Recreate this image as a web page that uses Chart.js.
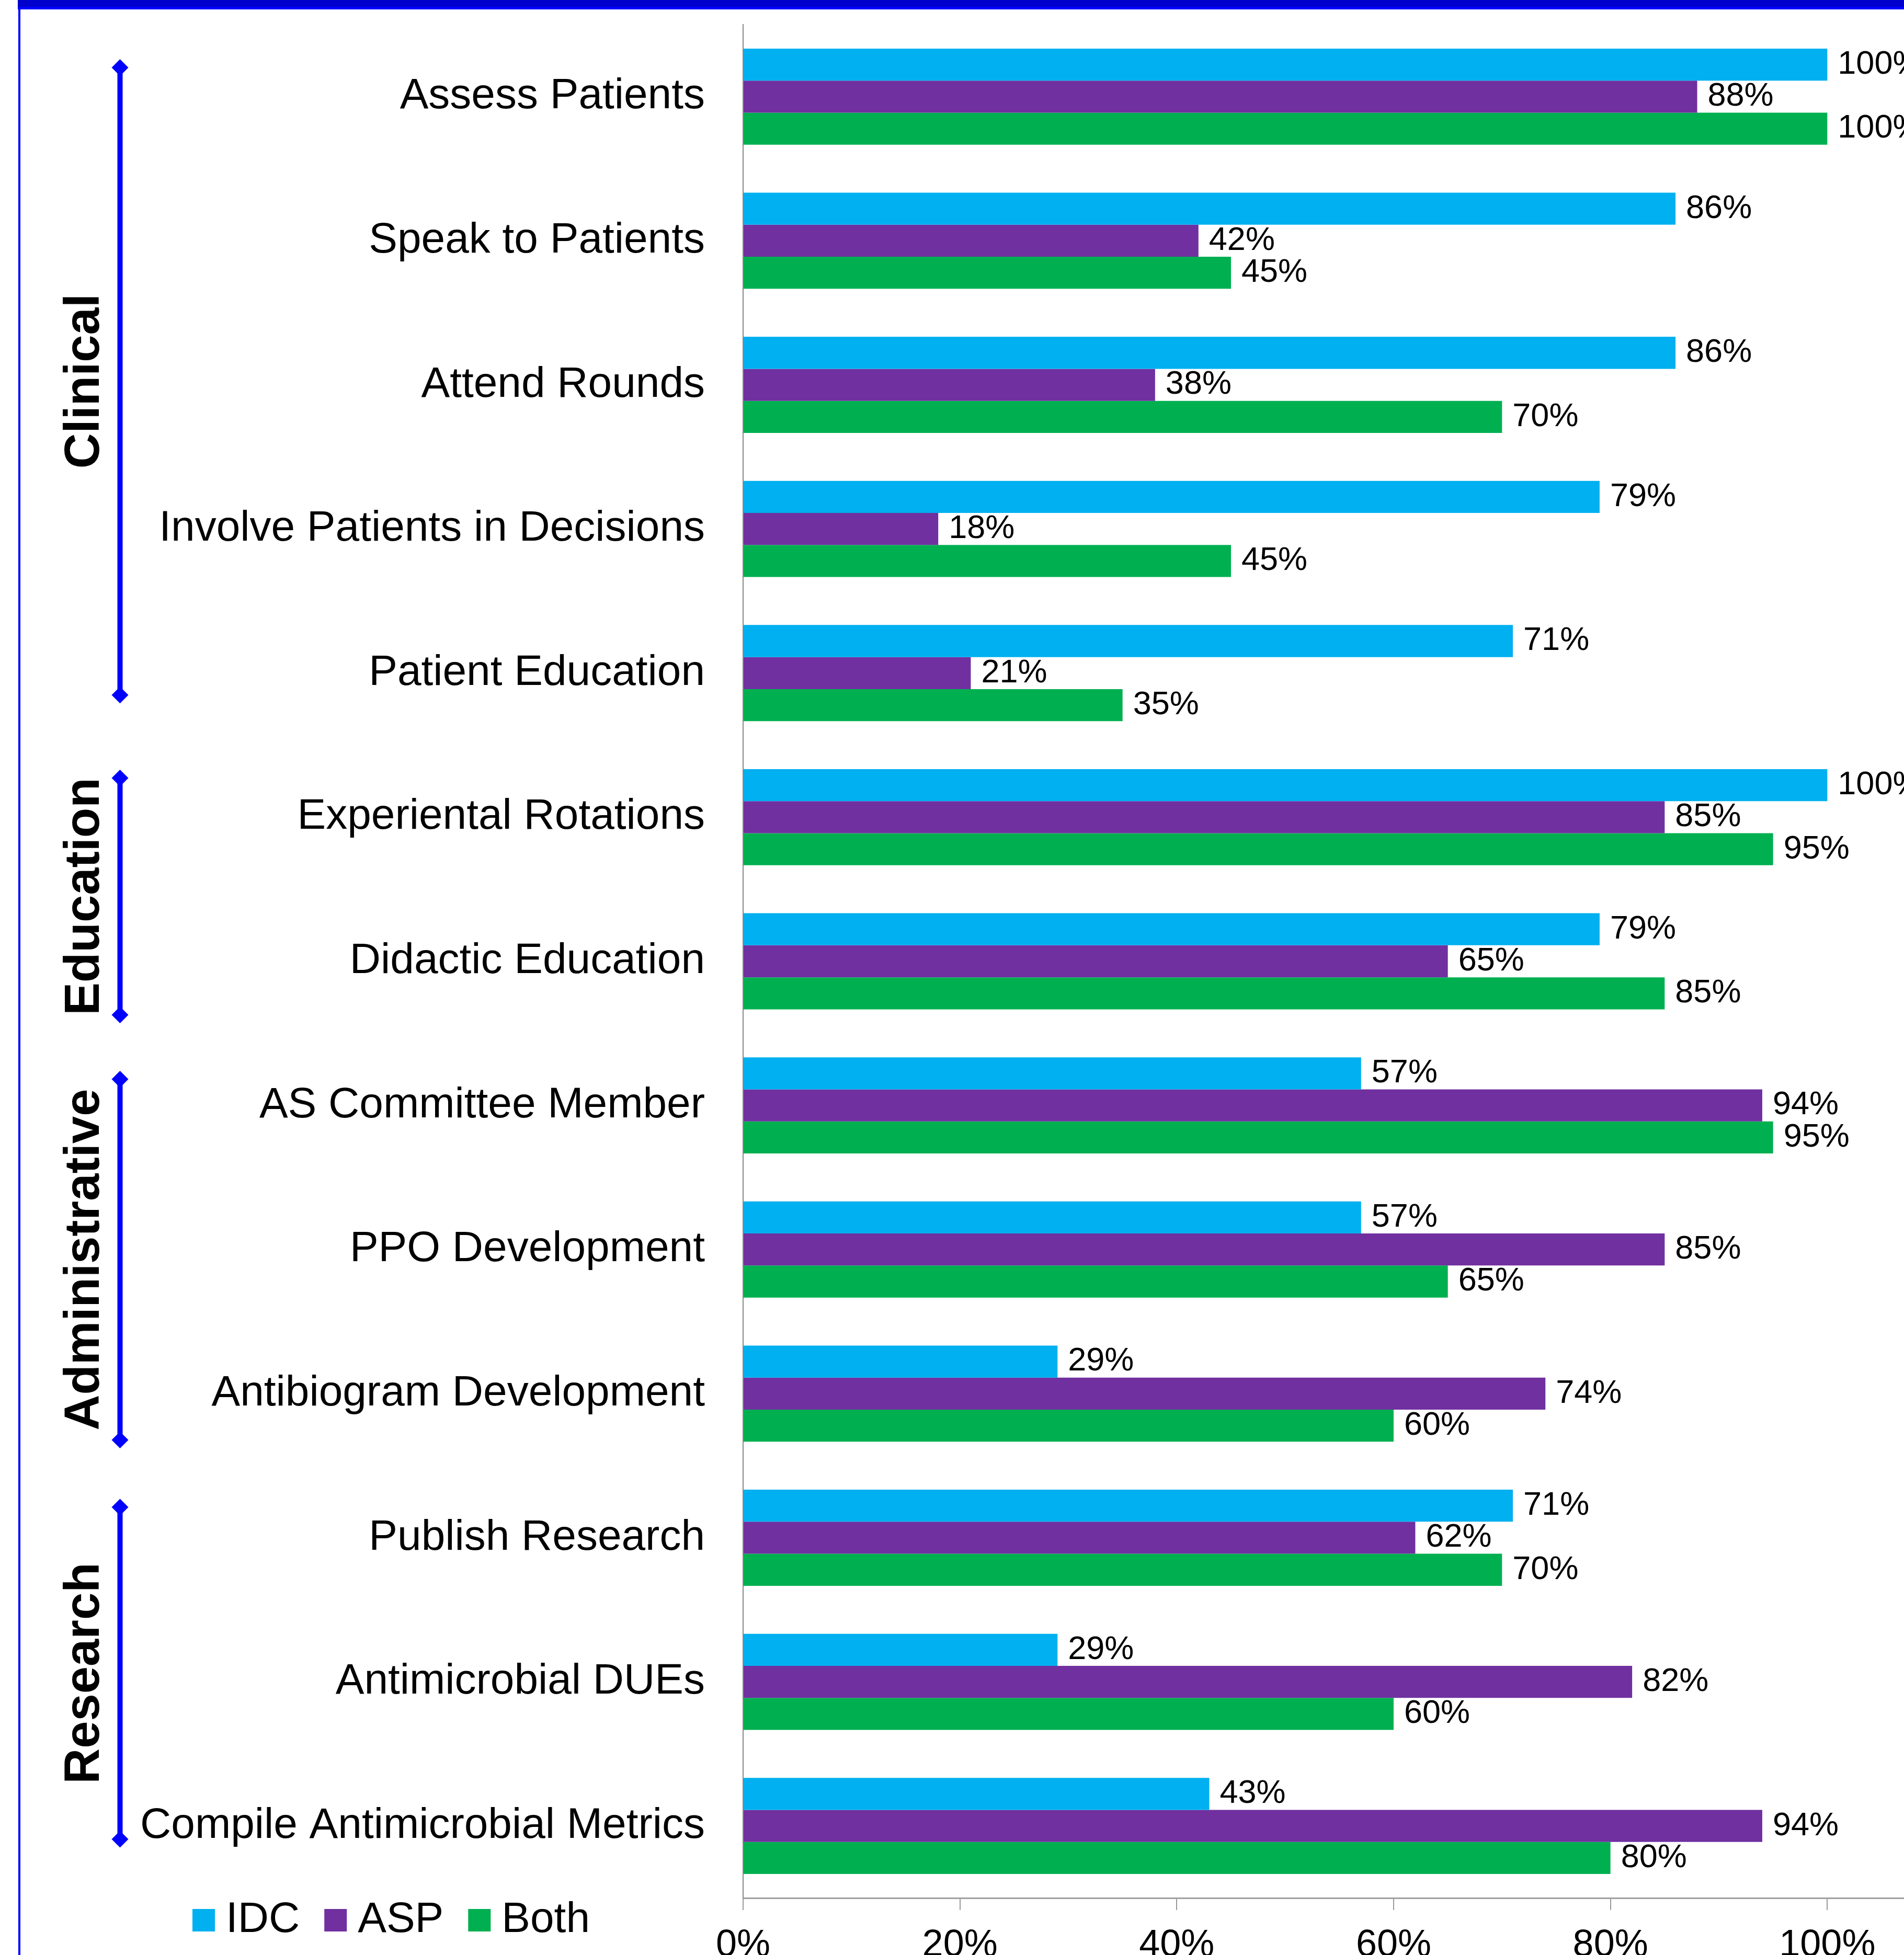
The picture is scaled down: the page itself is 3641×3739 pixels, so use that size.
<!DOCTYPE html>
<html>
<head>
<meta charset="utf-8">
<script src="https://cdn.jsdelivr.net/npm/chart.js@4.4.1/dist/chart.umd.min.js"></script>
<style>
  html, body { margin: 0; padding: 0; background: #fff; overflow: hidden; }
  #wrap { position: absolute; left: 0; top: 0; }
  #bandTop { position: absolute; left: 34px; top: 0; width: 3700px; height: 13px; background: #0000CC; }
  #bandTop2 { position: absolute; left: 34px; top: 13px; width: 3700px; height: 5px; background: #0000FF; }
  #bandLeft { position: absolute; left: 35px; top: 0; width: 4px; height: 3800px; background: #0000FF; }
</style>
</head>
<body>
<div id="wrap"><canvas id="chart" width="4020" height="3800"></canvas></div>
<div id="bandLeft"></div>
<div id="bandTop"></div>
<div id="bandTop2"></div>
<script>
// categories, top to bottom
const categories = [
    'Assess Patients', 'Speak to Patients', 'Attend Rounds', 'Involve Patients in Decisions',
    'Patient Education', 'Experiental Rotations', 'Didactic Education', 'AS Committee Member',
    'PPO Development', 'Antibiogram Development', 'Publish Research', 'Antimicrobial DUEs',
    'Compile Antimicrobial Metrics'
];
const idc  = [100, 86, 86, 79, 71, 100, 79, 57, 57, 29, 71, 29, 43];
const asp  = [88, 42, 38, 18, 21, 85, 65, 94, 85, 74, 62, 82, 94];
const both = [100, 45, 70, 45, 35, 95, 85, 95, 65, 60, 70, 60, 80];
const seriesNames = ['IDC', 'ASP', 'Both'];
const groupNames = ['Clinical', 'Education', 'Administrative', 'Research'];
const xTickValues = [0, 20, 40, 60, 80, 100, 120];

const font = '"Liberation Sans", Arial, sans-serif';
Chart.defaults.font.family = font;
Chart.defaults.color = '#000';

// bracket extents, in category units
const bracketSpans = [[-0.26, 4.21], [4.67, 6.43], [6.76, 9.38], [9.73, 12.15]];

const barLabels = {
    id: 'barLabels',
    afterDatasetsDraw(chart) {
        const ctx = chart.ctx;
        ctx.save();
        ctx.font = '63px ' + font;
        ctx.fillStyle = '#000';
        ctx.textBaseline = 'middle';
        ctx.textAlign = 'left';
        chart.data.datasets.forEach((ds, i) => {
            chart.getDatasetMeta(i).data.forEach((bar, j) => {
                ctx.fillText(ds.data[j] + '%', bar.x + 20, bar.y);
            });
        });
        ctx.restore();
    }
};

const extras = {
    id: 'extras',
    afterDraw(chart) {
        const ctx = chart.ctx;
        const y = chart.scales.y;
        ctx.save();
        // group brackets
        const bx = 229.5;
        groupNames.forEach((name, g) => {
            const top = y.getPixelForValue(bracketSpans[g][0]);
            const bot = y.getPixelForValue(bracketSpans[g][1]);
            ctx.fillStyle = '#0000FF';
            ctx.fillRect(bx - 5, top + 16, 10, bot - top - 32);
            [top, bot - 32].forEach(t => {
                ctx.beginPath();
                ctx.moveTo(bx, t);
                ctx.lineTo(bx + 16, t + 16);
                ctx.lineTo(bx, t + 32);
                ctx.lineTo(bx - 16, t + 16);
                ctx.closePath();
                ctx.fill();
            });
            ctx.save();
            ctx.translate(189, (top + bot) / 2);
            ctx.rotate(-Math.PI / 2);
            ctx.font = 'bold 94px ' + font;
            ctx.fillStyle = '#000';
            ctx.textAlign = 'center';
            ctx.textBaseline = 'alphabetic';
            ctx.fillText(name, 0, 0);
            ctx.restore();
        });
        // legend
        ctx.font = '82px ' + font;
        ctx.textBaseline = 'middle';
        ctx.textAlign = 'left';
        let lx = 368;
        const ly = chart.chartArea.bottom + 21;
        chart.data.datasets.forEach(ds => {
            ctx.fillStyle = ds.backgroundColor;
            ctx.fillRect(lx, ly, 43, 43);
            const tx = lx + 43 + 21;
            ctx.fillStyle = '#000';
            ctx.fillText(ds.label, tx, ly + 21);
            lx = tx + ctx.measureText(ds.label).width + 47;
        });
        ctx.restore();
    }
};

new Chart(document.getElementById('chart'), {
    type: 'bar',
    data: {
        labels: categories,
        datasets: [
            { label: seriesNames[0], data: idc, backgroundColor: '#00B0F0' },
            { label: seriesNames[1], data: asp, backgroundColor: '#7030A0' },
            { label: seriesNames[2], data: both, backgroundColor: '#00B050' }
        ]
    },
    options: {
        indexAxis: 'y',
        responsive: false,
        animation: false,
        categoryPercentage: 0.667,
        barPercentage: 1,
        layout: { padding: { top: 47, left: 0, right: 111, bottom: 0 } },
        plugins: { legend: { display: false }, tooltip: { enabled: false } },
        scales: {
            x: {
                min: 0, max: 120,
                afterBuildTicks: s => { s.ticks = xTickValues.map(v => ({ value: v })); },
                ticks: { callback: v => v + '%', font: { size: 72 }, padding: 25, maxRotation: 0 },
                grid: { drawOnChartArea: false, tickLength: 23, color: '#999', lineWidth: 2 },
                border: { color: '#A0A0A0', width: 3 },
                afterFit: s => { s.height = 170; s.paddingLeft = 0; s.paddingRight = 0; }
            },
            y: {
                ticks: { font: { size: 82 }, padding: 65, autoSkip: false },
                grid: { display: false },
                border: { color: '#888', width: 2 },
                afterFit: s => { s.width = 1421; s.paddingTop = 0; s.paddingBottom = 0; }
            }
        }
    },
    plugins: [barLabels, extras]
});
</script>
</body>
</html>
